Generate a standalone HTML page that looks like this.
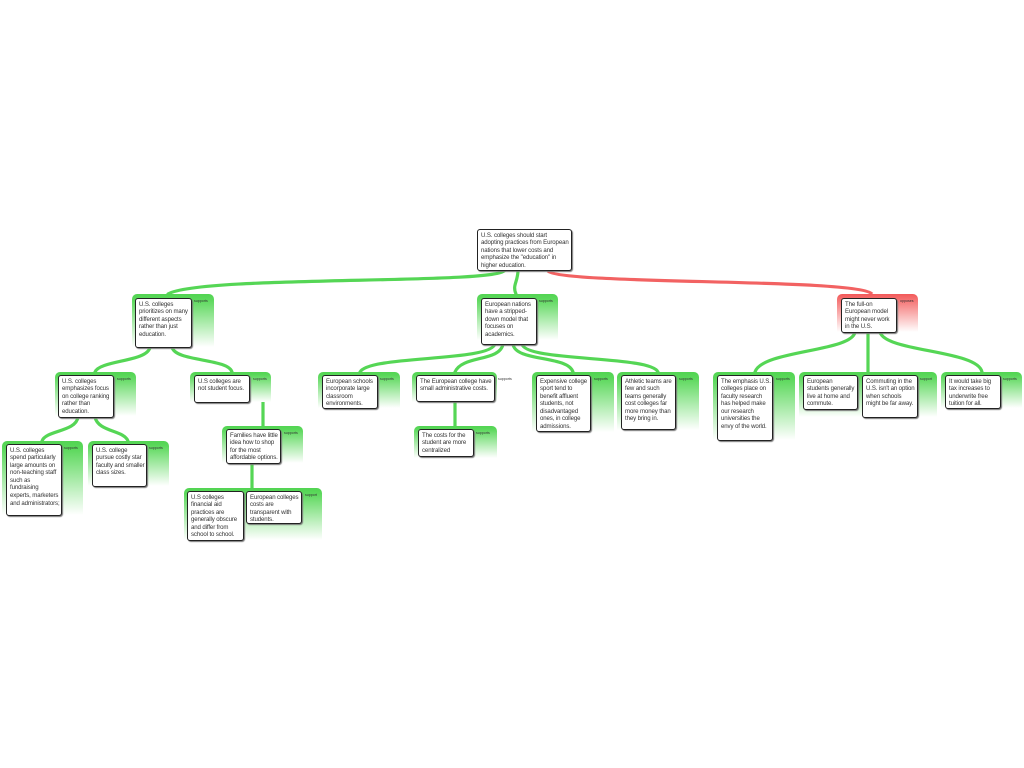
<!DOCTYPE html>
<html><head><meta charset="utf-8"><style>
body{margin:0;width:1024px;height:768px;background:#fff;position:relative;overflow:hidden;font-family:"Liberation Sans",sans-serif}
.c{position:absolute;border-radius:5px 5px 0 0;background:linear-gradient(to bottom,#52d452 0%,#5bd85b 10%,#ffffff 100%)}
.r{background:linear-gradient(to bottom,#f25a5a 0%,#f46a6a 10%,#ffffff 100%)}
.b{position:absolute;background:#fff;border:1.3px solid #222;border-radius:3px;box-shadow:1px 1px 1px #777;font-size:6.1px;line-height:7.6px;letter-spacing:-0.12px;color:#333;padding:1.5px 1px 1px 3px;box-sizing:border-box;overflow:hidden}
.l{position:absolute;font-size:3.6px;color:#333}
svg{position:absolute;left:0;top:0}
</style></head><body>
<svg width="1024" height="768">
<g fill="none" stroke="#55d655" stroke-width="3.2" stroke-linecap="round">
<path d="M505 270 C500 285 200 275 168 294"/>
<path d="M518 270 C518 282 512 285 516 294"/>
<path d="M150 347 C148 362 100 360 95 372"/>
<path d="M172 347 C175 362 228 358 232 372"/>
<path d="M495 344 C490 362 370 355 360 372"/>
<path d="M503 344 C500 362 462 355 455 372"/>
<path d="M513 344 C515 362 568 355 573 372"/>
<path d="M522 344 C525 362 650 355 658 372"/>
<path d="M855 332 C852 352 762 350 755 372"/>
<path d="M868 332 L868 372"/>
<path d="M880 332 C885 352 978 350 982 372"/>
<path d="M78 417 C76 432 46 430 42 441"/>
<path d="M95 417 C98 432 124 430 128 441"/>
<path d="M263 392 L263 426"/>
<path d="M258 391 L268 391"/>
<path d="M455 401 L455 426"/>
<path d="M252 463 L252 488"/>
</g>
<path d="M548 271 C560 285 860 278 872 294" fill="none" stroke="#f26262" stroke-width="3.2"/>
</svg>

<div class="b" style="left:477px;top:229px;width:95px;height:42px">U.S. colleges should start adopting practices from European nations that lower costs and emphasize the "education" in higher education.</div>

<div class="c" style="left:132px;top:294px;width:82px;height:53px"></div>
<div class="b" style="left:135px;top:298px;width:57px;height:50px">U.S. colleges prioritizes on many different aspects rather than just education.</div>
<div class="l" style="left:194px;top:299px">supports</div>

<div class="c" style="left:477px;top:294px;width:81px;height:46px"></div>
<div class="b" style="left:481px;top:298px;width:56px;height:47px">European nations have a stripped-down model that focuses on academics.</div>
<div class="l" style="left:539px;top:299px">supports</div>

<div class="c r" style="left:837px;top:294px;width:81px;height:38px"></div>
<div class="b" style="left:841px;top:298px;width:56px;height:35px">The full-on European model might never work in the U.S.</div>
<div class="l" style="left:900px;top:299px">opposes</div>

<div class="c" style="left:55px;top:372px;width:81px;height:44px"></div>
<div class="b" style="left:58px;top:375px;width:56px;height:43px">U.S. colleges emphasizes focus on college ranking rather than education.</div>
<div class="l" style="left:117px;top:377px">supports</div>

<div class="c" style="left:190px;top:372px;width:81px;height:30px"></div>
<div class="b" style="left:194px;top:375px;width:56px;height:28px">U.S colleges are not student focus.</div>
<div class="l" style="left:253px;top:377px">supports</div>

<div class="c" style="left:318px;top:372px;width:82px;height:36px"></div>
<div class="b" style="left:322px;top:375px;width:56px;height:34px">European schools incorporate large classroom environments.</div>
<div class="l" style="left:380px;top:377px">supports</div>

<div class="c" style="left:412px;top:372px;width:85px;height:30px"></div>
<div class="b" style="left:416px;top:375px;width:79px;height:27px">The European college have small administrative costs.</div>
<div class="l" style="left:498px;top:377px">supports</div>

<div class="c" style="left:414px;top:426px;width:83px;height:32px"></div>
<div class="b" style="left:418px;top:429px;width:56px;height:28px">The costs for the student are more centralized</div>
<div class="l" style="left:476px;top:431px">supports</div>

<div class="c" style="left:532px;top:372px;width:82px;height:60px"></div>
<div class="b" style="left:536px;top:375px;width:55px;height:57px">Expensive college sport tend to benefit affluent students, not disadvantaged ones, in college admissions.</div>
<div class="l" style="left:594px;top:377px">supports</div>

<div class="c" style="left:617px;top:372px;width:82px;height:58px"></div>
<div class="b" style="left:621px;top:375px;width:55px;height:55px">Athletic teams are few and such teams generally cost colleges far more money than they bring in.</div>
<div class="l" style="left:679px;top:377px">supports</div>

<div class="c" style="left:713px;top:372px;width:82px;height:68px"></div>
<div class="b" style="left:717px;top:375px;width:56px;height:66px">The emphasis U.S. colleges place on faculty research has helped make our research universities the envy of the world.</div>
<div class="l" style="left:776px;top:377px">supports</div>

<div class="c" style="left:799px;top:372px;width:138px;height:45px"></div>
<div class="b" style="left:803px;top:375px;width:55px;height:35px">European students generally live at home and commute.</div>
<div class="b" style="left:862px;top:375px;width:56px;height:43px">Commuting in the U.S. isn't an option when schools might be far away.</div>
<div class="l" style="left:920px;top:377px">support</div>

<div class="c" style="left:941px;top:372px;width:81px;height:36px"></div>
<div class="b" style="left:945px;top:375px;width:56px;height:34px">It would take big tax increases to underwrite free tuition for all.</div>
<div class="l" style="left:1003px;top:377px">supports</div>

<div class="c" style="left:2px;top:441px;width:81px;height:74px"></div>
<div class="b" style="left:6px;top:444px;width:56px;height:72px">U.S. colleges spend particularly large amounts on non-teaching staff such as fundraising experts, marketers and administrators;</div>
<div class="l" style="left:64px;top:446px">supports</div>

<div class="c" style="left:88px;top:441px;width:81px;height:45px"></div>
<div class="b" style="left:92px;top:444px;width:55px;height:43px">U.S. college pursue costly star faculty and smaller class sizes.</div>
<div class="l" style="left:149px;top:446px">supports</div>

<div class="c" style="left:222px;top:426px;width:81px;height:37px"></div>
<div class="b" style="left:226px;top:429px;width:55px;height:35px">Families have little idea how to shop for the most affordable options.</div>
<div class="l" style="left:284px;top:431px">supports</div>

<div class="c" style="left:184px;top:488px;width:138px;height:52px"></div>
<div class="b" style="left:187px;top:491px;width:57px;height:50px">U.S colleges financial aid practices are generally obscure and differ from school to school.</div>
<div class="b" style="left:246px;top:491px;width:56px;height:33px">European colleges costs are transparent with students.</div>
<div class="l" style="left:305px;top:493px">support</div>
</body></html>
